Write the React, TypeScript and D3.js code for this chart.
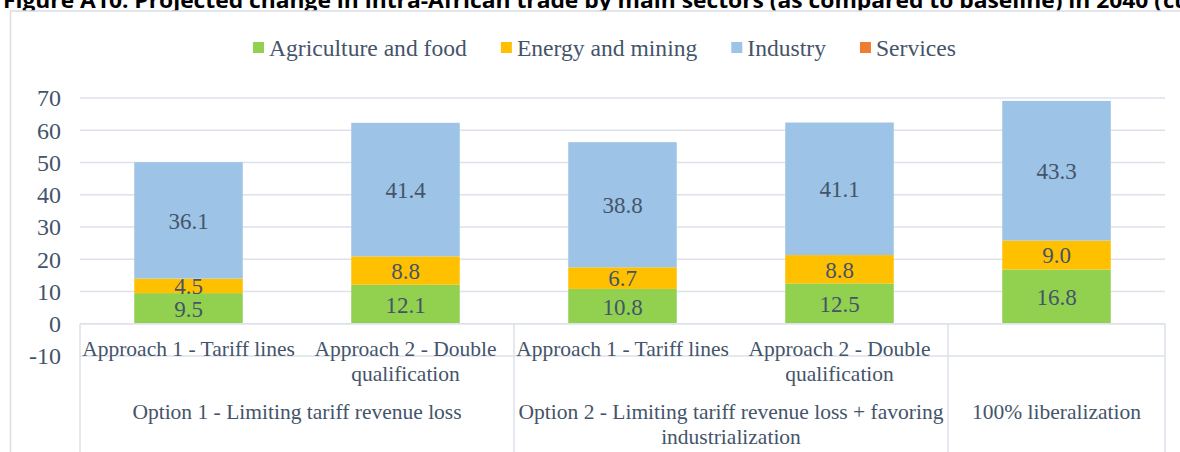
import React, { useEffect, useRef } from 'react';
import * as d3 from 'd3';

const categories = ['A1-O1', 'A2-O1', 'A1-O2', 'A2-O2', 'Full'];
const approachLabels = [
  ['Approach 1 - Tariff lines'],
  ['Approach 2 - Double', 'qualification'],
  ['Approach 1 - Tariff lines'],
  ['Approach 2 - Double', 'qualification'],
  [''],
];
const optionLabels = [
  ['Option 1 - Limiting tariff revenue loss'],
  ['Option 2 - Limiting tariff revenue loss + favoring', 'industrialization'],
  ['100% liberalization'],
];
const optionSpans = [2, 2, 1];

const seriesNames = ['Agriculture and food', 'Energy and mining', 'Industry', 'Services'];
const agriculture = [9.5, 12.1, 10.8, 12.5, 16.8];
const energy = [4.5, 8.8, 6.7, 8.8, 9.0];
const industry = [36.1, 41.4, 38.8, 41.1, 43.3];
const services = [0, 0, 0, 0, 0];
const yTicks = [-10, 0, 10, 20, 30, 40, 50, 60, 70];

const colors = ['#92D050', '#FFC000', '#9DC3E6', '#ED7D31'];
const titleMain =
  'Figure A10: Projected change in intra-African trade by main sectors (as compared to baseline) in 2040 (';
const titleRest = 'cumulative %)';

const App = () => {
  const svgRef = useRef(null);

  useEffect(() => {
    const width = 1180;
    const height = 452;
    const margin = { top: 98, right: 15, bottom: 96, left: 80 };
    const textColor = '#44546A';
    const gridColor = '#DDE2EA';
    const serif = "'Times New Roman', 'Liberation Serif', serif";
    const sans = "'Open Sans', 'Liberation Sans', sans-serif";

    const svg = d3.select(svgRef.current).attr('width', width).attr('height', height);
    svg.selectAll('*').remove();

    const rows = categories.map((c, i) => ({
      cat: c,
      k0: agriculture[i],
      k1: energy[i],
      k2: industry[i],
      k3: services[i],
    }));
    const keys = ['k0', 'k1', 'k2', 'k3'];
    const stacked = d3.stack().keys(keys)(rows);

    const x = d3.scaleBand()
      .domain(categories)
      .range([margin.left, width - margin.right])
      .paddingInner(0.5)
      .paddingOuter(0.25);

    const y = d3.scaleLinear()
      .domain([-10, 70])
      .range([height - margin.bottom, margin.top]);

    // title, cut at the top like the page crop
    svg.append('text')
      .attr('x', 3)
      .attr('y', 7.5)
      .attr('textLength', 1159)
      .attr('lengthAdjust', 'spacingAndGlyphs')
      .style('font-family', sans)
      .style('font-weight', 'bold')
      .style('font-size', '22px')
      .attr('fill', '#000')
      .text(titleMain);
    svg.append('text')
      .attr('x', 1163)
      .attr('y', 7.5)
      .style('font-family', sans)
      .style('font-weight', 'bold')
      .style('font-size', '22px')
      .attr('fill', '#000')
      .text(titleRest);

    // chart frame
    svg.append('rect')
      .attr('x', 10.5)
      .attr('y', 11)
      .attr('width', 1200)
      .attr('height', 460)
      .attr('fill', '#fff')
      .attr('stroke', '#D9DEE6')
      .attr('stroke-width', 1.5);

    // gridlines
    svg.append('g')
      .selectAll('line')
      .data(yTicks)
      .join('line')
      .attr('x1', margin.left)
      .attr('x2', width - margin.right)
      .attr('y1', d => y(d))
      .attr('y2', d => y(d))
      .attr('stroke', gridColor)
      .attr('stroke-width', 1.5);

    // y axis labels
    svg.append('g')
      .selectAll('text')
      .data(yTicks)
      .join('text')
      .attr('x', 61)
      .attr('y', d => y(d))
      .attr('dy', '0.35em')
      .attr('text-anchor', 'end')
      .style('font-family', serif)
      .style('font-size', '24px')
      .attr('fill', textColor)
      .text(d => d);

    // bars
    svg.append('g')
      .selectAll('g')
      .data(stacked)
      .join('g')
      .attr('fill', (d, i) => colors[i])
      .selectAll('rect')
      .data(d => d)
      .join('rect')
      .attr('x', d => x(d.data.cat))
      .attr('y', d => y(d[1]))
      .attr('width', x.bandwidth())
      .attr('height', d => y(d[0]) - y(d[1]));

    // data labels
    svg.append('g')
      .selectAll('g')
      .data(stacked.slice(0, 3))
      .join('g')
      .selectAll('text')
      .data(d => d)
      .join('text')
      .attr('x', d => x(d.data.cat) + x.bandwidth() / 2)
      .attr('y', d => (y(d[0]) + y(d[1])) / 2)
      .attr('dy', '0.36em')
      .attr('text-anchor', 'middle')
      .style('font-family', serif)
      .style('font-size', '23px')
      .attr('fill', textColor)
      .text(d => d3.format('.1f')(d[1] - d[0]));

    // category table lines
    const y0 = y(0);
    const step = x.step();
    const left = margin.left;
    const right = width - margin.right;
    const table = svg.append('g').attr('stroke', gridColor).attr('stroke-width', 1.5);
    table.append('line').attr('x1', left).attr('x2', right).attr('y1', y0).attr('y2', y0);
    const bounds = [0];
    optionSpans.reduce((acc, s) => { bounds.push(acc + s); return acc + s; }, 0);
    const boundX = bounds.map((b, i) => (i === 0 ? left : i === bounds.length - 1 ? right : left + b * step));
    table.selectAll('.vline')
      .data(boundX)
      .join('line')
      .attr('x1', d => d)
      .attr('x2', d => d)
      .attr('y1', y0)
      .attr('y2', height + 10);

    // approach labels
    const catG = svg.append('g')
      .style('font-family', serif)
      .style('font-size', '21.5px')
      .attr('fill', textColor)
      .attr('text-anchor', 'middle');
    approachLabels.forEach((lines, i) => {
      lines.forEach((t, j) => {
        catG.append('text')
          .attr('x', x(categories[i]) + x.bandwidth() / 2)
          .attr('y', 356 + j * 25)
          .text(t);
      });
    });

    // option labels
    optionLabels.forEach((lines, i) => {
      const cx = (boundX[i] + boundX[i + 1]) / 2;
      lines.forEach((t, j) => {
        catG.append('text')
          .attr('x', cx)
          .attr('y', 419 + j * 25)
          .text(t);
      });
    });

    // legend
    const legend = svg.append('g')
      .style('font-family', serif)
      .style('font-size', '23.6px')
      .attr('fill', textColor);
    let lx = 253;
    seriesNames.forEach((name, i) => {
      legend.append('rect')
        .attr('x', lx)
        .attr('y', 42)
        .attr('width', 11)
        .attr('height', 11)
        .attr('fill', colors[i]);
      const t = legend.append('text')
        .attr('x', lx + 16)
        .attr('y', 56)
        .text(name);
      const w = t.node().getComputedTextLength();
      lx += 16 + w + 34;
    });
  }, []);

  return (
    <div>
      <style>{'body{margin:0}'}</style>
      <svg ref={svgRef} style={{ display: 'block' }}></svg>
    </div>
  );
};

export default App;
